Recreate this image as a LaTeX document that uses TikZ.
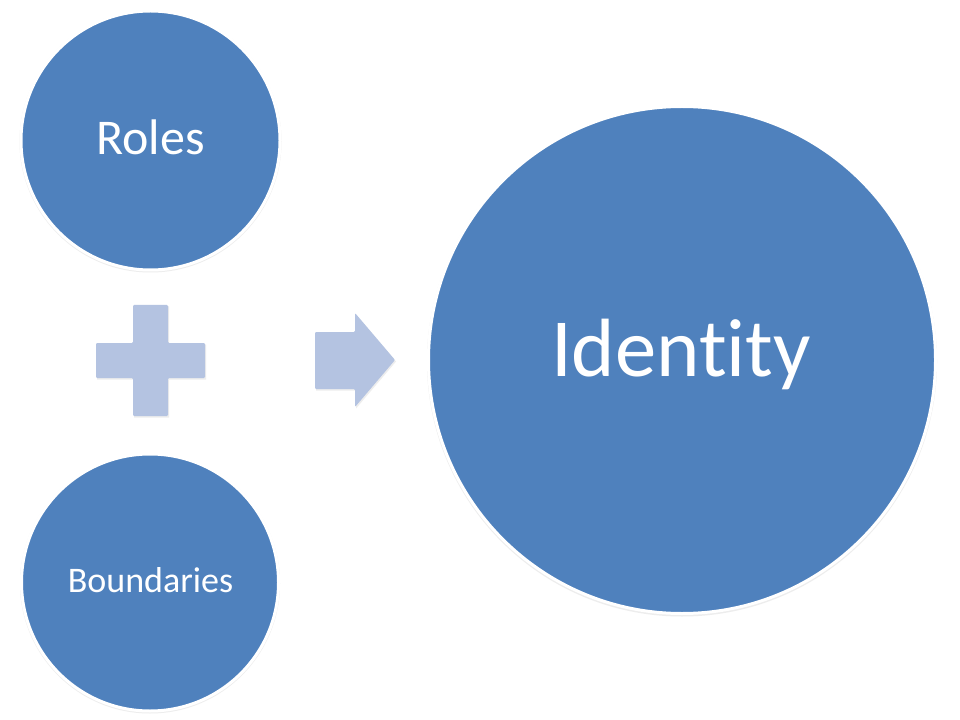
\documentclass[tikz,border=0pt]{standalone}
\usepackage{fontspec}
\setmainfont[Ligatures=NoCommon]{Carlito}
\definecolor{circblue}{HTML}{4F81BD}
\definecolor{lightblue}{HTML}{B4C3E1}
\begin{document}
\begin{tikzpicture}[x=0.75pt,y=-0.75pt,
  disc/.style={circle,fill=circblue,draw=white,line width=2.25pt,inner sep=0pt},
  discshadow/.style={circle,fill=black!7,inner sep=0pt},
  label/.style={text=white,anchor=base,inner sep=0pt},
  symb/.style={fill=lightblue,draw=none,rounded corners=0.8pt}]
\useasboundingbox[fill=white] (0,0) rectangle (960,720);
% shadows
\node[discshadow,minimum size=262pt*0.75] (rolesS) at (150.5,141.5) {};
\node[discshadow,minimum size=260pt*0.75] (boundS) at (150,583.5) {};
\node[discshadow,minimum size=510pt*0.75] (idS) at (682,361.5) {};
% circles
\node[disc,minimum size=259pt*0.75] (roles) at (150.5,140.5) {};
\node[disc,minimum size=257pt*0.75] (bound) at (150,582.5) {};
\node[disc,minimum size=507pt*0.75] (ident) at (682,360) {};
% texts
\node[label,font=\fontsize{37.5}{40}\selectfont] (rolesT) at (150.5,155) {Roles};
\node[label,font=\fontsize{27}{30}\selectfont] (boundT) at (150.5,592) {Boundaries};
\node[label,font=\fontsize{62}{66}\selectfont] (identT) at (681,376) {Ident\kern0pt ity};
% plus
\fill[black!7] (134,306.5) -- (169,306.5) -- (169,344.5) -- (206,344.5) -- (206,379.5)
  -- (169,379.5) -- (169,417.5) -- (134,417.5) -- (134,379.5) -- (97,379.5)
  -- (97,344.5) -- (134,344.5) -- cycle;
\path[symb] (133,305) -- (168,305) -- (168,343) -- (205,343) -- (205,378)
  -- (168,378) -- (168,416) -- (133,416) -- (133,378) -- (96,378)
  -- (96,343) -- (133,343) -- cycle;
% arrow
\fill[black!7] (316,333.5) -- (356,333.5) -- (356,314.5) -- (396,361.5) -- (356,408.5)
  -- (356,390.5) -- (316,390.5) -- cycle;
\path[symb] (315,332) -- (355,332) -- (355,313) -- (395,360) -- (355,407)
  -- (355,389) -- (315,389) -- cycle;
\end{tikzpicture}
\end{document}
